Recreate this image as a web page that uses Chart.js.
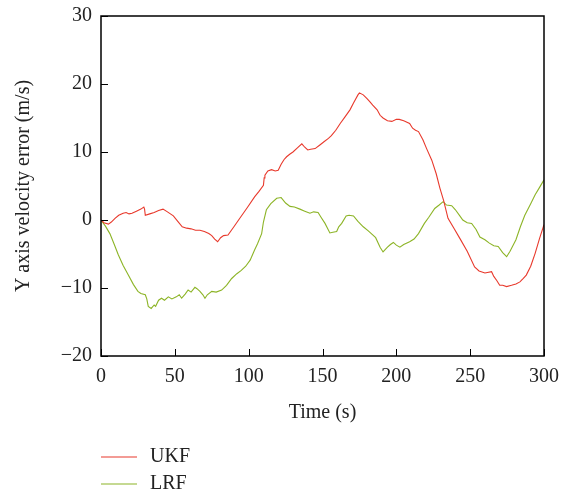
<!DOCTYPE html>
<html>
<head>
<meta charset="utf-8">
<script src="https://cdn.jsdelivr.net/npm/chart.js@4/dist/chart.umd.min.js"></script>
<style>
	html, body { margin: 0; padding: 0; background: #fff; }
	#graficoVelocidade { display: block; }
</style>
</head>
<body>
<canvas id="graficoVelocidade" width="571" height="497"></canvas>
<script>
var ukfTempo = [0, 2, 5, 7, 9.5, 12, 15, 17, 19, 21, 24, 27, 29, 29.5, 30, 33, 36, 39, 42, 45, 49, 52, 55, 58, 61, 64, 67, 70, 73, 75, 77, 79, 81, 83, 86, 90, 94, 99, 104, 107, 110, 110.5, 111, 113, 115.5, 118, 120, 122, 124, 125.7, 128, 130, 133, 136, 138, 140, 142, 145, 148, 151, 154, 156, 159, 162, 165, 168.6, 171, 174, 175, 177.6, 180, 182, 184, 187, 189, 191, 194, 197, 200, 202, 205, 209, 211, 213, 215, 218, 220.5, 224, 227, 229.5, 232, 235, 239, 243, 248, 253, 256, 260, 264.5, 266, 268, 270, 272, 274.7, 278, 281, 283.7, 286, 288, 291, 294, 297, 300];
var ukfErro = [0, -0.4, -0.6, -0.3, 0.25, 0.7, 1.0, 1.1, 0.9, 1.0, 1.3, 1.6, 1.9, 1.6, 0.7, 0.9, 1.1, 1.4, 1.6, 1.2, 0.6, -0.2, -1.0, -1.2, -1.3, -1.5, -1.5, -1.7, -2.0, -2.3, -2.8, -3.2, -2.6, -2.3, -2.2, -1.0, 0.25, 1.8, 3.4, 4.2, 5.1, 6.2, 6.6, 7.2, 7.4, 7.2, 7.3, 8.2, 8.9, 9.3, 9.7, 10.0, 10.6, 11.2, 10.7, 10.3, 10.4, 10.5, 11.0, 11.5, 12.0, 12.4, 13.2, 14.2, 15.1, 16.2, 17.2, 18.4, 18.7, 18.4, 17.9, 17.4, 16.9, 16.2, 15.4, 15.0, 14.6, 14.5, 14.8, 14.8, 14.6, 14.2, 13.5, 13.2, 13.0, 11.8, 10.5, 8.8, 6.8, 4.7, 2.9, 0.25, -1.2, -2.7, -4.6, -6.9, -7.5, -7.8, -7.6, -8.3, -8.9, -9.6, -9.6, -9.8, -9.6, -9.4, -9.1, -8.6, -8.1, -6.8, -4.9, -2.7, -0.7];

var lrfTempo = [0, 3, 6, 9, 11.7, 15, 18.5, 22, 25, 27, 30, 31, 32, 34, 36, 37, 39, 41, 43, 45.6, 48, 51, 53, 54.6, 57, 59, 61, 63.6, 65, 67, 69, 70.4, 72, 75, 78, 81.7, 85, 88.5, 92, 95, 98, 101, 104, 106, 108.8, 110, 112, 115, 119, 122, 125, 128, 131, 134.7, 138, 141.5, 144, 147, 149, 151.7, 155, 157, 159.6, 161, 163, 166, 168, 171, 174, 177.6, 181, 184, 186, 189, 191, 194, 196, 198, 200, 202.4, 205, 209, 212, 215, 219, 222, 226, 229, 231.7, 234, 237.5, 240, 243, 245, 248, 251, 254, 256.6, 260, 263, 266, 269, 272, 274.7, 277, 281, 284, 287, 291, 294, 297, 300];
var lrfErro = [0, -0.9, -2.0, -3.6, -5.1, -6.7, -8.1, -9.5, -10.5, -10.8, -11.0, -11.6, -12.7, -13.0, -12.5, -12.7, -11.8, -11.5, -11.8, -11.3, -11.6, -11.3, -11.0, -11.5, -10.9, -10.3, -10.6, -9.9, -10.1, -10.5, -11.0, -11.5, -11.0, -10.5, -10.6, -10.3, -9.6, -8.6, -7.9, -7.4, -6.8, -5.9, -4.4, -3.5, -2.0, -0.3, 1.5, 2.4, 3.2, 3.3, 2.5, 2.0, 1.9, 1.6, 1.3, 1.0, 1.2, 1.1, 0.4, -0.5, -1.9, -1.8, -1.7, -1.0, -0.5, 0.6, 0.7, 0.6, -0.2, -1.0, -1.6, -2.2, -2.6, -4.0, -4.7, -4.0, -3.6, -3.3, -3.7, -4.0, -3.6, -3.2, -2.8, -2.0, -0.5, 0.4, 1.7, 2.2, 2.7, 2.2, 2.1, 1.5, 0.6, 0, -0.4, -0.5, -1.4, -2.5, -2.9, -3.4, -3.8, -3.9, -4.8, -5.4, -4.6, -2.9, -1.0, 0.7, 2.4, 3.7, 4.8, 5.9];

var series = ['UKF', 'LRF'];
var cores = ['#e8392c', '#8cb426'];

var ticksX = [0, 50, 100, 150, 200, 250, 300];
var ticksY = [-20, -10, 0, 10, 20, 30];

var FONTE = 'Liberation Serif, Times New Roman, serif';

function pontos(xs, ys) {
	return xs.map(function(x, i) { return { x: x, y: ys[i] }; });
}

function comMenos(valor) {
	return String(valor).replace('-', '\u2212');
}

// moldura completa e marcas de escala para dentro
var molduraPlugin = {
	id: 'moldura',
	afterDraw: function(chart) {
		var ctx = chart.ctx;
		var area = chart.chartArea;
		var sx = chart.scales.x;
		var sy = chart.scales.y;
		ctx.save();
		ctx.strokeStyle = '#000';
		ctx.lineWidth = 1.5;
		ctx.strokeRect(area.left, area.top, area.right - area.left, area.bottom - area.top);
		ctx.lineWidth = 1;
		ctx.beginPath();
		ticksY.forEach(function(v) {
			var py = Math.round(sy.getPixelForValue(v)) + 0.5;
			ctx.moveTo(area.left, py);
			ctx.lineTo(area.left + 7, py);
		});
		ticksX.forEach(function(v) {
			var px = Math.round(sx.getPixelForValue(v)) + 0.5;
			ctx.moveTo(px, area.bottom);
			ctx.lineTo(px, area.bottom - 7);
		});
		ctx.stroke();
		ctx.restore();
	}
};

// legenda empilhada abaixo do eixo
var legendaPlugin = {
	id: 'legendaVertical',
	afterDraw: function(chart) {
		var ctx = chart.ctx;
		ctx.save();
		ctx.font = '20px ' + FONTE;
		ctx.textBaseline = 'middle';
		ctx.textAlign = 'left';
		series.forEach(function(nome, i) {
			var y = 457 + i * 27;
			ctx.strokeStyle = cores[i];
			ctx.lineWidth = 1.2;
			ctx.beginPath();
			ctx.moveTo(101, y);
			ctx.lineTo(137, y);
			ctx.stroke();
			ctx.fillStyle = '#222';
			ctx.fillText(nome, 150, y);
		});
		ctx.restore();
	}
};

var grafico = new Chart(document.getElementById('graficoVelocidade').getContext('2d'), {
	type: 'line',
	data: {
		datasets: [{
			label: series[0],
			data: pontos(ukfTempo, ukfErro),
			borderColor: cores[0],
			borderWidth: 1.1,
			pointRadius: 0,
			tension: 0
		}, {
			label: series[1],
			data: pontos(lrfTempo, lrfErro),
			borderColor: cores[1],
			borderWidth: 1.1,
			pointRadius: 0,
			tension: 0
		}]
	},
	options: {
		responsive: false,
		animation: false,
		layout: { padding: { top: 16, right: 27, left: 0, bottom: 0 } },
		plugins: {
			legend: { display: false },
			tooltip: { enabled: false }
		},
		scales: {
			x: {
				type: 'linear',
				min: 0,
				max: 300,
				afterFit: function(scale) { scale.height = 141; },
				afterBuildTicks: function(scale) {
					scale.ticks = ticksX.map(function(v) { return { value: v }; });
				},
				grid: { display: false },
				border: { display: false },
				ticks: {
					padding: 1,
					color: '#222',
					font: { family: FONTE, size: 20 },
					maxRotation: 0,
					callback: comMenos
				},
				title: {
					display: true,
					text: 'Time (s)',
					color: '#222',
					font: { family: FONTE, size: 20 },
					padding: { top: 0, bottom: 72 }
				}
			},
			y: {
				min: -20,
				max: 30,
				afterFit: function(scale) { scale.width = 101; },
				afterBuildTicks: function(scale) {
					scale.ticks = ticksY.map(function(v) { return { value: v }; });
				},
				grid: { display: false },
				border: { display: false },
				ticks: {
					padding: 1,
					color: '#222',
					font: { family: FONTE, size: 20 },
					callback: comMenos
				},
				title: {
					display: true,
					text: 'Y axis velocity error (m/s)',
					color: '#222',
					font: { family: FONTE, size: 20 },
					padding: { top: 12, bottom: 0 }
				}
			}
		}
	},
	plugins: [molduraPlugin, legendaPlugin]
});
</script>
</body>
</html>
